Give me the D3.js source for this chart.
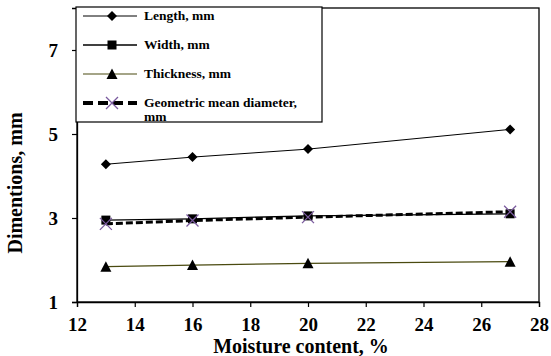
<!DOCTYPE html>
<html>
<head>
<meta charset="utf-8">
<script src="https://cdn.jsdelivr.net/npm/d3@7"></script>
<style>
  body { margin: 0; background: #fff; }
  text { font-family: "Liberation Serif", "Times New Roman", serif; font-weight: bold; }
</style>
</head>
<body>
<svg id="chart" width="551" height="356"></svg>
<script>
// data
const moisture = [13, 16, 20, 27];
const lengthMm = [4.28, 4.45, 4.64, 5.11];
const widthMm = [2.95, 2.98, 3.05, 3.1];
const thicknessMm = [1.84, 1.88, 1.92, 1.96];
const geoMeanMm = [2.86, 2.94, 3.02, 3.15];
const xTicks = [12, 14, 16, 18, 20, 22, 24, 26, 28];
const yTicks = [1, 3, 5, 7];

const seriesList = [
    { name: "Length, mm", vals: lengthMm, marker: "diamond", stroke: "#000", lw: 1, dash: null },
    { name: "Width, mm", vals: widthMm, marker: "square", stroke: "#000", lw: 1.3, dash: null },
    { name: "Thickness, mm", vals: thicknessMm, marker: "triangle", stroke: "#4a4a10", lw: 1.2, dash: null },
    { name: "Geometric mean diameter, mm", vals: geoMeanMm, marker: "x", stroke: "#000", lw: 3, dash: "7,3" }
];

/////////////// layout ////////////////
const PLOT_L = 77, PLOT_R = 539, PLOT_T = 8, PLOT_B = 302;
const SVG = d3.select("#chart");
const SCL_X = d3.scaleLinear().domain([12, 28]).range([PLOT_L, PLOT_R]);
const SCL_Y = d3.scaleLinear().domain([1, 8]).range([PLOT_B, PLOT_T]);

// plot frame
SVG.append("rect")
    .attr("x", PLOT_L).attr("y", PLOT_T)
    .attr("width", PLOT_R - PLOT_L).attr("height", PLOT_B - PLOT_T)
    .attr("fill", "none").attr("stroke", "#000").attr("stroke-width", 1.3);

// axes
const xAxis = SVG.append("g")
    .attr("transform", `translate(0, ${PLOT_B})`)
    .call(d3.axisBottom(SCL_X).tickValues(xTicks).tickFormat(d3.format("d")).tickSize(5).tickPadding(11));
const yAxis = SVG.append("g")
    .attr("transform", `translate(${PLOT_L}, 0)`)
    .call(d3.axisLeft(SCL_Y).tickValues(yTicks).tickFormat(d3.format("d")).tickSize(5).tickPadding(14));
[xAxis, yAxis].forEach(a => {
    a.attr("font-family", null).attr("font-size", null);
    a.select(".domain").attr("stroke", "#000").attr("stroke-width", 1.3);
    a.selectAll(".tick line").attr("stroke", "#000").attr("stroke-width", 1.2);
    a.selectAll(".tick text")
        .attr("fill", "#000")
        .style("font-family", "'Times New Roman', 'Liberation Serif', serif")
        .style("font-weight", "bold")
        .style("font-size", "19px");
});

// axis titles
SVG.append("text")
    .attr("x", 301).attr("y", 353)
    .attr("text-anchor", "middle")
    .style("font-size", "20px")
    .text("Moisture content, %");
SVG.append("text")
    .attr("transform", `translate(22, ${(PLOT_T + PLOT_B) / 2 + 28}) rotate(-90)`)
    .attr("text-anchor", "middle")
    .style("font-size", "20px")
    .text("Dimentions, mm");

/////////////// markers ////////////////
function drawMarker(g, type, x, y) {
    if (type == "diamond") {
        g.append("path")
            .attr("d", `M${x},${y - 5}L${x + 5},${y}L${x},${y + 5}L${x - 5},${y}Z`)
            .attr("fill", "#000");
    } else if (type == "square") {
        g.append("rect")
            .attr("x", x - 4.5).attr("y", y - 4.5).attr("width", 9).attr("height", 9)
            .attr("fill", "#000");
    } else if (type == "triangle") {
        g.append("path")
            .attr("d", `M${x},${y - 5.5}L${x + 5.5},${y + 5}L${x - 5.5},${y + 5}Z`)
            .attr("fill", "#000");
    } else {
        g.append("path")
            .attr("d", `M${x - 6},${y - 6}L${x + 6},${y + 6}M${x - 6},${y + 6}L${x + 6},${y - 6}`)
            .attr("stroke", "#7a5a9e").attr("stroke-width", 1.3).attr("fill", "none");
    }
}

/////////////// series ////////////////
const LINE = d3.line().x(d => SCL_X(d[0])).y(d => SCL_Y(d[1]));
seriesList.forEach(s => {
    const g = SVG.append("g");
    const pts = moisture.map((m, i) => [m, s.vals[i]]);
    g.append("path")
        .attr("d", LINE(pts))
        .attr("fill", "none")
        .attr("stroke", s.stroke)
        .attr("stroke-width", s.lw)
        .attr("stroke-dasharray", s.dash);
    pts.forEach(p => drawMarker(g, s.marker, SCL_X(p[0]), SCL_Y(p[1])));
});

/////////////// legend ////////////////
const LEG = SVG.append("g");
LEG.append("rect")
    .attr("x", 76).attr("y", 7).attr("width", 246).attr("height", 115)
    .attr("fill", "#fff").attr("stroke", "#000").attr("stroke-width", 1.2);
const legRowY = [16, 45, 74, 103];
seriesList.forEach((s, i) => {
    const y = legRowY[i];
    LEG.append("line")
        .attr("x1", 83).attr("x2", 137).attr("y1", y).attr("y2", y)
        .attr("stroke", s.stroke)
        .attr("stroke-width", s.marker == "x" ? 4 : s.lw)
        .attr("stroke-dasharray", s.marker == "x" ? "10,5" : null);
    drawMarker(LEG, s.marker, 112, y);
    const t = LEG.append("text")
        .attr("x", 144).attr("y", y + 4)
        .style("font-size", "13.5px");
    if (s.marker == "x") {
        t.append("tspan").attr("x", 144).text("Geometric mean diameter,");
        t.append("tspan").attr("x", 144).attr("dy", 14).text("mm");
    } else {
        t.text(s.name);
    }
});
</script>
</body>
</html>
